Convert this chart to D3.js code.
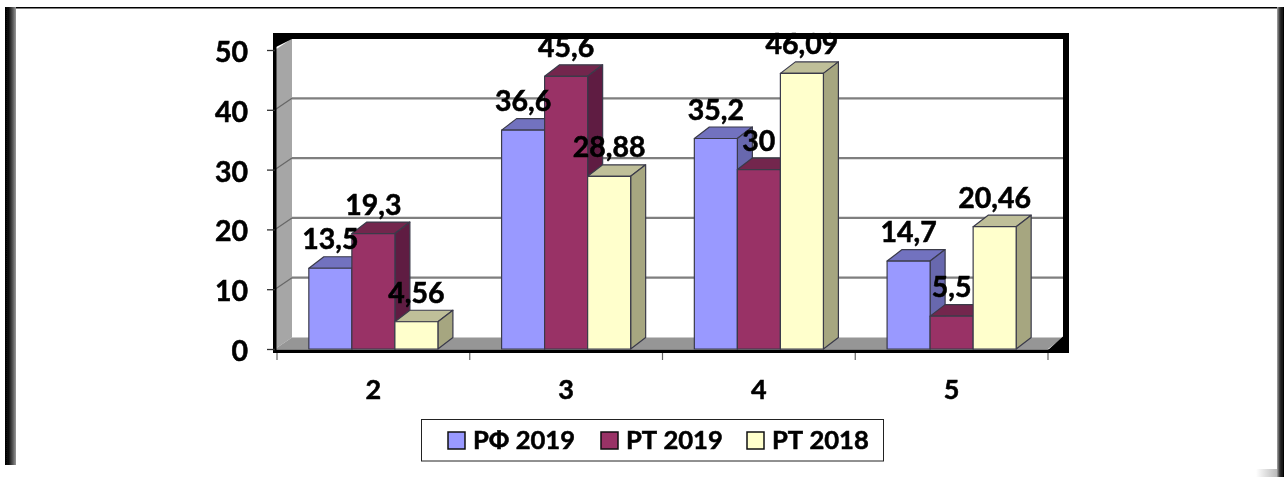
<!DOCTYPE html>
<html>
<head>
<meta charset="utf-8">
<script src="https://cdnjs.cloudflare.com/ajax/libs/d3/7.8.5/d3.min.js"></script>
<style>
  html, body { margin: 0; padding: 0; background: #fff; overflow: hidden; }
  svg { display: block; }
  text { font-family: Lato, "Open Sans", sans-serif; font-weight: 700; fill: #000; stroke: #000; stroke-width: 0.55px; }
</style>
</head>
<body>
<svg id="chart" width="1284" height="477"></svg>
<script>
var categories = ["2", "3", "4", "5"];
var seriesNames = ["РФ 2019", "РТ 2019", "РТ 2018"];
var rf2019 = [13.5, 36.6, 35.2, 14.7];
var rt2019 = [19.3, 45.6, 30, 5.5];
var rt2018 = [4.56, 28.88, 46.09, 20.46];
var yTicks = [0, 10, 20, 30, 40, 50];

var seriesValues = [rf2019, rt2019, rt2018];
var front = ["#9999ff", "#993366", "#ffffcc"];
var top3d = ["#7272bf", "#73264d", "#bfbf99"];
var side = ["#6868ae", "#5e1f42", "#a6a680"];

var svg = d3.select("#chart");

var defs = svg.append("defs");
defs.append("filter").attr("id", "soft")
    .attr("x", 0).attr("y", 0)
    .attr("filterUnits", "userSpaceOnUse")
    .attr("width", 1284).attr("height", 477)
  .append("feGaussianBlur").attr("stdDeviation", 0.45);

function hGrad(id, stops){
  var g = defs.append("linearGradient").attr("id", id);
  stops.forEach(s => g.append("stop").attr("offset", s[0]).attr("stop-color", s[1]));
}
hGrad("frameLeft", [[0, "#000"], [0.35, "#111"], [0.7, "#555"], [1, "#999"]]);
hGrad("frameRight", [[0, "#aaa"], [0.4, "#333"], [1, "#000"]]);
hGrad("cornerFade", [[0, "#fff"], [1, "#bbb"]]);

var root = svg.append("g").attr("filter", "url(#soft)");

// outer picture frame
root.append("rect").attr("x", 5).attr("y", 7).attr("width", 1272).attr("height", 1.5).attr("fill", "#000");
root.append("rect").attr("x", 5).attr("y", 7).attr("width", 11).attr("height", 458).attr("fill", "url(#frameLeft)");
root.append("rect").attr("x", 1277).attr("y", 7).attr("width", 7).attr("height", 470).attr("fill", "url(#frameRight)");
root.append("rect").attr("x", 1256).attr("y", 469).attr("width", 21).attr("height", 8).attr("fill", "url(#cornerFade)");

// scales, front plane of the 3d box
var depthX = 17, depthY = 11.5;
var x = d3.scaleBand().domain(categories).range([277, 1048]);
var y = d3.scaleLinear().domain([0, 50]).range([349, 50]);
var inner = d3.scaleBand().domain(d3.range(seriesNames.length))
    .range([0, x.bandwidth()]).paddingOuter(0.74).paddingInner(0);

var y0 = y(0), yMax = y(50), left = 275, right = 1048;
var backL = left + depthX, backR = right + depthX - 2;

function poly(pts){ return pts.map(p => p.join(",")).join(" "); }

var walls = root.append("g");
walls.append("polygon")
    .attr("points", poly([[left, y0], [backL, y0 - depthY], [backL, yMax - depthY], [left, yMax]]))
    .attr("fill", "#a6a6a6");
walls.append("polygon")
    .attr("points", poly([[left, y0], [backL, y0 - depthY], [backR, y0 - depthY], [right, y0]]))
    .attr("fill", "#969696");

// gridlines on back wall and left wall
var gridVals = yTicks.filter(d => d > 0 && d < 50);
walls.selectAll(".grid").data(gridVals).enter().append("line")
    .classed("grid", true)
    .attr("x1", backL).attr("x2", backR)
    .attr("y1", d => y(d) - depthY).attr("y2", d => y(d) - depthY)
    .attr("stroke", "#7f7f7f").attr("stroke-width", 2.2);
walls.selectAll(".gridSide").data(gridVals).enter().append("line")
    .classed("gridSide", true)
    .attr("x1", left).attr("x2", backL)
    .attr("y1", d => y(d)).attr("y2", d => y(d) - depthY)
    .attr("stroke", "#666").attr("stroke-width", 1.2);

// black border of the plot box
var border = root.append("g").attr("fill", "#000");
border.append("rect").attr("x", 273).attr("y", 33).attr("width", 796).attr("height", 6);
border.append("rect").attr("x", 273).attr("y", 33).attr("width", 3.5).attr("height", 320);
border.append("rect").attr("x", 1063).attr("y", 33).attr("width", 6).attr("height", 320);
border.append("rect").attr("x", 273).attr("y", y0 + 0.5).attr("width", 796).attr("height", 3.5);
border.append("polygon").attr("points", poly([[273, 33], [292, 33], [292, 39], [276, 47]]));
border.append("polygon").attr("points", poly([[1048, y0 + 1], [1063, y0 - depthY - 1], [1069, y0 - depthY - 1], [1069, y0 + 1]]));

// bars, left to right
var barData = [];
categories.forEach((c, i) => {
  seriesValues.forEach((vals, s) => barData.push({cat: c, s: s, v: vals[i]}));
});
var bw = inner.bandwidth();
var bars = root.append("g").selectAll("g").data(barData).enter().append("g")
    .attr("stroke", "#3a3a4a").attr("stroke-width", 1.2).attr("stroke-linejoin", "round");
function bx(d){ return x(d.cat) + inner(d.s); }
bars.append("polygon")
    .attr("fill", d => top3d[d.s])
    .attr("points", d => poly([[bx(d), y(d.v)], [bx(d) + depthX - 2, y(d.v) - depthY], [bx(d) + bw + depthX - 2, y(d.v) - depthY], [bx(d) + bw, y(d.v)]]));
bars.append("polygon")
    .attr("fill", d => side[d.s])
    .attr("points", d => poly([[bx(d) + bw, y(d.v)], [bx(d) + bw + depthX - 2, y(d.v) - depthY], [bx(d) + bw + depthX - 2, y0 - depthY], [bx(d) + bw, y0]]));
bars.append("rect")
    .attr("fill", d => front[d.s])
    .attr("x", bx).attr("y", d => y(d.v))
    .attr("width", bw).attr("height", d => y0 - y(d.v));

// axes
var yAxis = d3.axisLeft(y).tickValues(yTicks).tickSize(8).tickPadding(19);
var yG = root.append("g").attr("transform", "translate(275,0)").call(yAxis);
yG.select(".domain").remove();
yG.selectAll("line").attr("stroke", "#333").attr("stroke-width", 1.3);
yG.selectAll("text").style("font-size", "28.5px").attr("dy", "0.4em");

var xAxis = d3.axisBottom(x).tickSize(0).tickPadding(27);
var xG = root.append("g").attr("transform", "translate(0,353)").call(xAxis);
xG.select(".domain").remove();
xG.selectAll("text").style("font-size", "27px");
root.append("g").selectAll("line").data(d3.range(categories.length + 1)).enter().append("line")
    .attr("x1", i => 277 + i * x.step()).attr("x2", i => 277 + i * x.step())
    .attr("y1", 353).attr("y2", 360)
    .attr("stroke", "#666").attr("stroke-width", 1.2);

// value labels
root.append("g").selectAll("text").data(barData).enter().append("text")
    .attr("x", d => bx(d) + bw / 2)
    .attr("y", d => y(d.v) - 19)
    .attr("text-anchor", "middle")
    .style("font-size", "28.5px")
    .text(d => String(d.v).replace(".", ","));

// legend
var legend = root.append("g");
legend.append("rect").attr("x", 421.5).attr("y", 419.5).attr("width", 462).attr("height", 41.5)
    .attr("fill", "#fff").attr("stroke", "#222").attr("stroke-width", 1);
var legendX = [448, 601, 747];
var items = legend.selectAll(".item").data(seriesNames).enter().append("g").classed("item", true);
items.append("rect")
    .attr("x", (d, i) => legendX[i]).attr("y", 432).attr("width", 17).attr("height", 17)
    .attr("fill", (d, i) => front[i]).attr("stroke", "#111").attr("stroke-width", 1.5);
items.append("text")
    .attr("x", (d, i) => legendX[i] + 25).attr("y", 449)
    .style("font-size", "25.6px")
    .text(d => d);
</script>
</body>
</html>
